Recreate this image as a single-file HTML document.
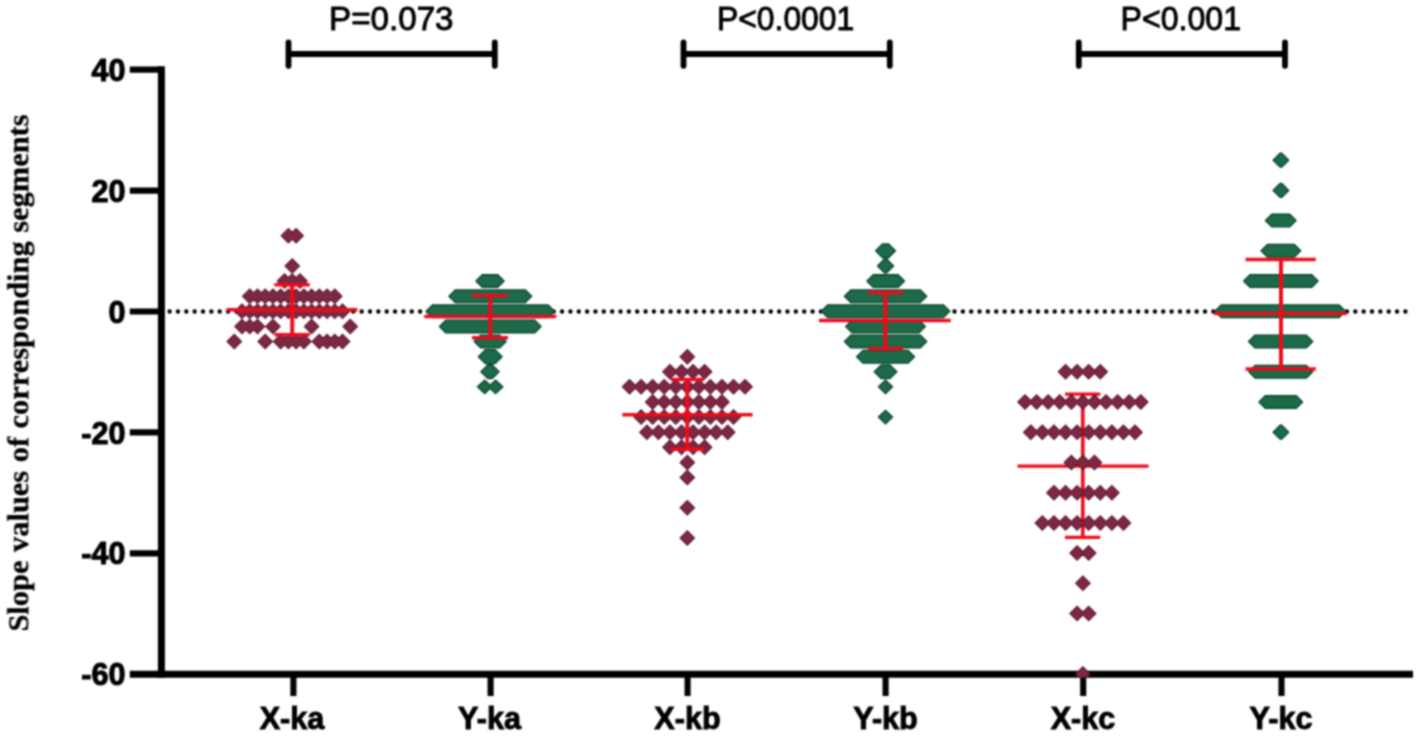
<!DOCTYPE html>
<html><head><meta charset="utf-8"><title>Slope values</title>
<style>html,body{margin:0;padding:0;background:#fff}svg{display:block}</style>
</head><body>
<svg width="1418" height="737" viewBox="0 0 1418 737">
<rect width="1418" height="737" fill="#fff"/>
<filter id="bl" x="0" y="0" width="1418" height="737" filterUnits="userSpaceOnUse" color-interpolation-filters="sRGB"><feConvolveMatrix order="3" kernelMatrix="1 2 1 2 4 2 1 2 1" divisor="16" edgeMode="none" preserveAlpha="false"/><feConvolveMatrix order="3" kernelMatrix="1 6 1 6 36 6 1 6 1" divisor="64" edgeMode="none" preserveAlpha="false"/></filter>
<g filter="url(#bl)">
<line x1="169.6" y1="311.5" x2="1405.8" y2="311.5" stroke="#000" stroke-width="4.4" stroke-linecap="round" stroke-dasharray="0.01 8.34"/>
<path d="M280.38 235.74L288.38 227.74L296.38 235.74L288.38 243.74ZM288.12 235.74L296.12 227.74L304.12 235.74L296.12 243.74ZM284.25 265.96L292.25 257.96L300.25 265.96L292.25 273.96ZM276.52 281.07L284.52 273.07L292.52 281.07L284.52 289.07ZM284.25 281.07L292.25 273.07L300.25 281.07L292.25 289.07ZM291.98 281.07L299.98 273.07L307.98 281.07L299.98 289.07ZM241.74 296.19L249.74 288.19L257.74 296.19L249.74 304.19ZM249.46 296.19L257.46 288.19L265.46 296.19L257.46 304.19ZM257.19 296.19L265.19 288.19L273.19 296.19L265.19 304.19ZM264.93 296.19L272.93 288.19L280.93 296.19L272.93 304.19ZM272.65 296.19L280.65 288.19L288.65 296.19L280.65 304.19ZM280.38 296.19L288.38 288.19L296.38 296.19L288.38 304.19ZM288.12 296.19L296.12 288.19L304.12 296.19L296.12 304.19ZM295.85 296.19L303.85 288.19L311.85 296.19L303.85 304.19ZM303.57 296.19L311.57 288.19L319.57 296.19L311.57 304.19ZM311.31 296.19L319.31 288.19L327.31 296.19L319.31 304.19ZM319.04 296.19L327.04 288.19L335.04 296.19L327.04 304.19ZM326.76 296.19L334.76 288.19L342.76 296.19L334.76 304.19ZM234.00 311.30L242.00 303.30L250.00 311.30L242.00 319.30ZM241.74 311.30L249.74 303.30L257.74 311.30L249.74 319.30ZM249.46 311.30L257.46 303.30L265.46 311.30L257.46 319.30ZM257.19 311.30L265.19 303.30L273.19 311.30L265.19 319.30ZM264.93 311.30L272.93 303.30L280.93 311.30L272.93 319.30ZM272.65 311.30L280.65 303.30L288.65 311.30L280.65 319.30ZM280.38 311.30L288.38 303.30L296.38 311.30L288.38 319.30ZM288.12 311.30L296.12 303.30L304.12 311.30L296.12 319.30ZM295.85 311.30L303.85 303.30L311.85 311.30L303.85 319.30ZM303.57 311.30L311.57 303.30L319.57 311.30L311.57 319.30ZM311.31 311.30L319.31 303.30L327.31 311.30L319.31 319.30ZM319.04 311.30L327.04 303.30L335.04 311.30L327.04 319.30ZM326.76 311.30L334.76 303.30L342.76 311.30L334.76 319.30ZM334.50 311.30L342.50 303.30L350.50 311.30L342.50 319.30ZM234.00 326.41L242.00 318.41L250.00 326.41L242.00 334.41ZM241.74 326.41L249.74 318.41L257.74 326.41L249.74 334.41ZM249.46 326.41L257.46 318.41L265.46 326.41L257.46 334.41ZM264.93 326.41L272.93 318.41L280.93 326.41L272.93 334.41ZM303.57 326.41L311.57 318.41L319.57 326.41L311.57 334.41ZM342.23 326.41L350.23 318.41L358.23 326.41L350.23 334.41ZM226.28 341.53L234.28 333.53L242.28 341.53L234.28 349.53ZM257.19 341.53L265.19 333.53L273.19 341.53L265.19 349.53ZM272.65 341.53L280.65 333.53L288.65 341.53L280.65 349.53ZM280.38 341.53L288.38 333.53L296.38 341.53L288.38 349.53ZM288.12 341.53L296.12 333.53L304.12 341.53L296.12 349.53ZM295.85 341.53L303.85 333.53L311.85 341.53L303.85 349.53ZM311.31 341.53L319.31 333.53L327.31 341.53L319.31 349.53ZM319.04 341.53L327.04 333.53L335.04 341.53L327.04 349.53ZM326.76 341.53L334.76 333.53L342.76 341.53L334.76 349.53ZM334.50 341.53L342.50 333.53L350.50 341.53L342.50 349.53Z" fill="#5a1029"/><path d="M281.80 235.74L288.38 229.15L294.97 235.74L288.38 242.32ZM289.53 235.74L296.12 229.15L302.70 235.74L296.12 242.32ZM285.66 265.96L292.25 259.38L298.84 265.96L292.25 272.55ZM277.93 281.07L284.52 274.49L291.11 281.07L284.52 287.66ZM285.66 281.07L292.25 274.49L298.84 281.07L292.25 287.66ZM293.39 281.07L299.98 274.49L306.57 281.07L299.98 287.66ZM243.15 296.19L249.74 289.60L256.32 296.19L249.74 302.77ZM250.88 296.19L257.46 289.60L264.05 296.19L257.46 302.77ZM258.61 296.19L265.19 289.60L271.78 296.19L265.19 302.77ZM266.34 296.19L272.93 289.60L279.51 296.19L272.93 302.77ZM274.07 296.19L280.65 289.60L287.24 296.19L280.65 302.77ZM281.80 296.19L288.38 289.60L294.97 296.19L288.38 302.77ZM289.53 296.19L296.12 289.60L302.70 296.19L296.12 302.77ZM297.26 296.19L303.85 289.60L310.43 296.19L303.85 302.77ZM304.99 296.19L311.57 289.60L318.16 296.19L311.57 302.77ZM312.72 296.19L319.31 289.60L325.89 296.19L319.31 302.77ZM320.45 296.19L327.04 289.60L333.62 296.19L327.04 302.77ZM328.18 296.19L334.76 289.60L341.35 296.19L334.76 302.77ZM235.42 311.30L242.00 304.71L248.59 311.30L242.00 317.89ZM243.15 311.30L249.74 304.71L256.32 311.30L249.74 317.89ZM250.88 311.30L257.46 304.71L264.05 311.30L257.46 317.89ZM258.61 311.30L265.19 304.71L271.78 311.30L265.19 317.89ZM266.34 311.30L272.93 304.71L279.51 311.30L272.93 317.89ZM274.07 311.30L280.65 304.71L287.24 311.30L280.65 317.89ZM281.80 311.30L288.38 304.71L294.97 311.30L288.38 317.89ZM289.53 311.30L296.12 304.71L302.70 311.30L296.12 317.89ZM297.26 311.30L303.85 304.71L310.43 311.30L303.85 317.89ZM304.99 311.30L311.57 304.71L318.16 311.30L311.57 317.89ZM312.72 311.30L319.31 304.71L325.89 311.30L319.31 317.89ZM320.45 311.30L327.04 304.71L333.62 311.30L327.04 317.89ZM328.18 311.30L334.76 304.71L341.35 311.30L334.76 317.89ZM335.91 311.30L342.50 304.71L349.08 311.30L342.50 317.89ZM235.42 326.41L242.00 319.83L248.59 326.41L242.00 333.00ZM243.15 326.41L249.74 319.83L256.32 326.41L249.74 333.00ZM250.88 326.41L257.46 319.83L264.05 326.41L257.46 333.00ZM266.34 326.41L272.93 319.83L279.51 326.41L272.93 333.00ZM304.99 326.41L311.57 319.83L318.16 326.41L311.57 333.00ZM343.64 326.41L350.23 319.83L356.81 326.41L350.23 333.00ZM227.69 341.53L234.28 334.94L240.86 341.53L234.28 348.11ZM258.61 341.53L265.19 334.94L271.78 341.53L265.19 348.11ZM274.07 341.53L280.65 334.94L287.24 341.53L280.65 348.11ZM281.80 341.53L288.38 334.94L294.97 341.53L288.38 348.11ZM289.53 341.53L296.12 334.94L302.70 341.53L296.12 348.11ZM297.26 341.53L303.85 334.94L310.43 341.53L303.85 348.11ZM312.72 341.53L319.31 334.94L325.89 341.53L319.31 348.11ZM320.45 341.53L327.04 334.94L333.62 341.53L327.04 348.11ZM328.18 341.53L334.76 334.94L341.35 341.53L334.76 348.11ZM335.91 341.53L342.50 334.94L349.08 341.53L342.50 348.11Z" fill="#7d2842"/>
<g stroke="#ee0a1c" fill="none"><path stroke-width="3.5" d="M226.7 309.7H357.4M274.4 284.7H309.8M274.4 334.7H309.8"/><path stroke-width="4.0" d="M292.2 284.7V334.7"/></g>
<path d="M475.00 281.07L482.00 274.07L498.00 274.07L505.00 281.07L498.00 288.07L482.00 288.07ZM448.00 296.19L455.00 289.19L525.60 289.19L532.60 296.19L525.60 303.19L455.00 303.19ZM425.20 311.30L432.20 304.30L548.40 304.30L555.40 311.30L548.40 318.30L432.20 318.30ZM438.50 326.41L445.50 319.41L535.00 319.41L542.00 326.41L535.00 333.41L445.50 333.41ZM473.30 341.53L480.30 334.53L500.00 334.53L507.00 341.53L500.00 348.53L480.30 348.53ZM477.50 356.64L485.10 349.04L495.40 349.04L503.00 356.64L495.40 364.24L485.10 364.24ZM480.00 371.75L487.60 364.15L492.40 364.15L500.00 371.75L492.40 379.35L487.60 379.35ZM476.50 386.86L484.70 379.26L492.90 386.86L484.70 394.46ZM487.40 386.86L495.60 379.26L503.80 386.86L495.60 394.46Z" fill="#07422a"/><path d="M476.77 281.07L482.52 275.32L497.48 275.32L503.23 281.07L497.48 286.82L482.52 286.82ZM449.77 296.19L455.52 290.44L525.08 290.44L530.83 296.19L525.08 301.94L455.52 301.94ZM426.97 311.30L432.72 305.55L547.88 305.55L553.63 311.30L547.88 317.05L432.72 317.05ZM440.27 326.41L446.02 320.66L534.48 320.66L540.23 326.41L534.48 332.16L446.02 332.16ZM475.07 341.53L480.82 335.78L499.48 335.78L505.23 341.53L499.48 347.28L480.82 347.28ZM479.27 356.64L485.62 350.29L494.88 350.29L501.23 356.64L494.88 362.99L485.62 362.99ZM481.77 371.75L488.12 365.40L491.88 365.40L498.23 371.75L491.88 378.10L488.12 378.10ZM478.27 386.86L484.70 381.03L491.13 386.86L484.70 392.69ZM489.17 386.86L495.60 381.03L502.03 386.86L495.60 392.69Z" fill="#1c6a48"/>
<g stroke="#ee0a1c" fill="none"><path stroke-width="3.5" d="M424.3 316.4H556.3M472 295.5H508M472 337.8H508"/><path stroke-width="4.0" d="M490.3 295.5V337.8"/></g>
<path d="M679.30 356.64L687.30 348.64L695.30 356.64L687.30 364.64ZM661.97 371.75L669.97 363.75L677.97 371.75L669.97 379.75ZM673.52 371.75L681.52 363.75L689.52 371.75L681.52 379.75ZM685.07 371.75L693.07 363.75L701.07 371.75L693.07 379.75ZM696.62 371.75L704.62 363.75L712.62 371.75L704.62 379.75ZM621.55 386.86L629.55 378.86L637.55 386.86L629.55 394.86ZM633.10 386.86L641.10 378.86L649.10 386.86L641.10 394.86ZM644.65 386.86L652.65 378.86L660.65 386.86L652.65 394.86ZM656.20 386.86L664.20 378.86L672.20 386.86L664.20 394.86ZM667.75 386.86L675.75 378.86L683.75 386.86L675.75 394.86ZM679.30 386.86L687.30 378.86L695.30 386.86L687.30 394.86ZM690.85 386.86L698.85 378.86L706.85 386.86L698.85 394.86ZM702.40 386.86L710.40 378.86L718.40 386.86L710.40 394.86ZM713.95 386.86L721.95 378.86L729.95 386.86L721.95 394.86ZM725.50 386.86L733.50 378.86L741.50 386.86L733.50 394.86ZM737.05 386.86L745.05 378.86L753.05 386.86L745.05 394.86ZM644.65 401.98L652.65 393.98L660.65 401.98L652.65 409.98ZM656.20 401.98L664.20 393.98L672.20 401.98L664.20 409.98ZM667.75 401.98L675.75 393.98L683.75 401.98L675.75 409.98ZM679.30 401.98L687.30 393.98L695.30 401.98L687.30 409.98ZM690.85 401.98L698.85 393.98L706.85 401.98L698.85 409.98ZM702.40 401.98L710.40 393.98L718.40 401.98L710.40 409.98ZM713.95 401.98L721.95 393.98L729.95 401.98L721.95 409.98ZM633.10 417.09L641.10 409.09L649.10 417.09L641.10 425.09ZM644.65 417.09L652.65 409.09L660.65 417.09L652.65 425.09ZM656.20 417.09L664.20 409.09L672.20 417.09L664.20 425.09ZM667.75 417.09L675.75 409.09L683.75 417.09L675.75 425.09ZM679.30 417.09L687.30 409.09L695.30 417.09L687.30 425.09ZM690.85 417.09L698.85 409.09L706.85 417.09L698.85 425.09ZM702.40 417.09L710.40 409.09L718.40 417.09L710.40 425.09ZM713.95 417.09L721.95 409.09L729.95 417.09L721.95 425.09ZM725.50 417.09L733.50 409.09L741.50 417.09L733.50 425.09ZM638.88 432.20L646.88 424.20L654.88 432.20L646.88 440.20ZM650.42 432.20L658.42 424.20L666.42 432.20L658.42 440.20ZM661.97 432.20L669.97 424.20L677.97 432.20L669.97 440.20ZM673.52 432.20L681.52 424.20L689.52 432.20L681.52 440.20ZM685.07 432.20L693.07 424.20L701.07 432.20L693.07 440.20ZM696.62 432.20L704.62 424.20L712.62 432.20L704.62 440.20ZM708.17 432.20L716.17 424.20L724.17 432.20L716.17 440.20ZM719.72 432.20L727.72 424.20L735.72 432.20L727.72 440.20ZM661.97 447.31L669.97 439.31L677.97 447.31L669.97 455.31ZM673.52 447.31L681.52 439.31L689.52 447.31L681.52 455.31ZM685.07 447.31L693.07 439.31L701.07 447.31L693.07 455.31ZM696.62 447.31L704.62 439.31L712.62 447.31L704.62 455.31ZM679.30 462.43L687.30 454.43L695.30 462.43L687.30 470.43ZM679.30 477.54L687.30 469.54L695.30 477.54L687.30 485.54ZM679.30 507.76L687.30 499.76L695.30 507.76L687.30 515.76ZM679.30 537.99L687.30 529.99L695.30 537.99L687.30 545.99Z" fill="#5a1029"/><path d="M680.71 356.64L687.30 350.05L693.89 356.64L687.30 363.22ZM663.39 371.75L669.97 365.16L676.56 371.75L669.97 378.34ZM674.94 371.75L681.52 365.16L688.11 371.75L681.52 378.34ZM686.49 371.75L693.07 365.16L699.66 371.75L693.07 378.34ZM698.04 371.75L704.62 365.16L711.21 371.75L704.62 378.34ZM622.96 386.86L629.55 380.28L636.14 386.86L629.55 393.45ZM634.51 386.86L641.10 380.28L647.69 386.86L641.10 393.45ZM646.06 386.86L652.65 380.28L659.24 386.86L652.65 393.45ZM657.61 386.86L664.20 380.28L670.79 386.86L664.20 393.45ZM669.16 386.86L675.75 380.28L682.34 386.86L675.75 393.45ZM680.71 386.86L687.30 380.28L693.89 386.86L687.30 393.45ZM692.26 386.86L698.85 380.28L705.44 386.86L698.85 393.45ZM703.81 386.86L710.40 380.28L716.99 386.86L710.40 393.45ZM715.36 386.86L721.95 380.28L728.54 386.86L721.95 393.45ZM726.91 386.86L733.50 380.28L740.09 386.86L733.50 393.45ZM738.46 386.86L745.05 380.28L751.64 386.86L745.05 393.45ZM646.06 401.98L652.65 395.39L659.24 401.98L652.65 408.56ZM657.61 401.98L664.20 395.39L670.79 401.98L664.20 408.56ZM669.16 401.98L675.75 395.39L682.34 401.98L675.75 408.56ZM680.71 401.98L687.30 395.39L693.89 401.98L687.30 408.56ZM692.26 401.98L698.85 395.39L705.44 401.98L698.85 408.56ZM703.81 401.98L710.40 395.39L716.99 401.98L710.40 408.56ZM715.36 401.98L721.95 395.39L728.54 401.98L721.95 408.56ZM634.51 417.09L641.10 410.50L647.69 417.09L641.10 423.67ZM646.06 417.09L652.65 410.50L659.24 417.09L652.65 423.67ZM657.61 417.09L664.20 410.50L670.79 417.09L664.20 423.67ZM669.16 417.09L675.75 410.50L682.34 417.09L675.75 423.67ZM680.71 417.09L687.30 410.50L693.89 417.09L687.30 423.67ZM692.26 417.09L698.85 410.50L705.44 417.09L698.85 423.67ZM703.81 417.09L710.40 410.50L716.99 417.09L710.40 423.67ZM715.36 417.09L721.95 410.50L728.54 417.09L721.95 423.67ZM726.91 417.09L733.50 410.50L740.09 417.09L733.50 423.67ZM640.29 432.20L646.88 425.61L653.46 432.20L646.88 438.79ZM651.84 432.20L658.42 425.61L665.01 432.20L658.42 438.79ZM663.39 432.20L669.97 425.61L676.56 432.20L669.97 438.79ZM674.94 432.20L681.52 425.61L688.11 432.20L681.52 438.79ZM686.49 432.20L693.07 425.61L699.66 432.20L693.07 438.79ZM698.04 432.20L704.62 425.61L711.21 432.20L704.62 438.79ZM709.59 432.20L716.17 425.61L722.76 432.20L716.17 438.79ZM721.14 432.20L727.72 425.61L734.31 432.20L727.72 438.79ZM663.39 447.31L669.97 440.73L676.56 447.31L669.97 453.90ZM674.94 447.31L681.52 440.73L688.11 447.31L681.52 453.90ZM686.49 447.31L693.07 440.73L699.66 447.31L693.07 453.90ZM698.04 447.31L704.62 440.73L711.21 447.31L704.62 453.90ZM680.71 462.43L687.30 455.84L693.89 462.43L687.30 469.01ZM680.71 477.54L687.30 470.95L693.89 477.54L687.30 484.12ZM680.71 507.76L687.30 501.18L693.89 507.76L687.30 514.35ZM680.71 537.99L687.30 531.40L693.89 537.99L687.30 544.57Z" fill="#7d2842"/>
<g stroke="#ee0a1c" fill="none"><path stroke-width="3.5" d="M622.4 414.7H752.5M670.8 379.5H704M670.8 449.3H704"/><path stroke-width="4.0" d="M687.3 379.5V449.3"/></g>
<path d="M874.70 250.85L882.30 243.25L888.80 243.25L896.40 250.85L888.80 258.45L882.30 258.45ZM876.60 265.96L884.20 258.36L886.90 258.36L894.50 265.96L886.90 273.56L884.20 273.56ZM866.00 281.07L873.00 274.07L898.40 274.07L905.40 281.07L898.40 288.07L873.00 288.07ZM843.50 296.19L850.50 289.19L920.60 289.19L927.60 296.19L920.60 303.19L850.50 303.19ZM820.40 311.30L827.40 304.30L943.70 304.30L950.70 311.30L943.70 318.30L827.40 318.30ZM844.80 326.41L851.80 319.41L919.30 319.41L926.30 326.41L919.30 333.41L851.80 333.41ZM843.50 341.53L850.50 334.53L920.60 334.53L927.60 341.53L920.60 348.53L850.50 348.53ZM855.70 356.64L862.70 349.64L908.40 349.64L915.40 356.64L908.40 363.64L862.70 363.64ZM873.30 371.75L880.90 364.15L890.20 364.15L897.80 371.75L890.20 379.35L880.90 379.35ZM877.50 386.86L885.50 379.26L893.50 386.86L885.50 394.46ZM877.50 417.09L885.50 409.49L893.50 417.09L885.50 424.69Z" fill="#07422a"/><path d="M876.47 250.85L882.82 244.50L888.28 244.50L894.63 250.85L888.28 257.20L882.82 257.20ZM878.37 265.96L884.72 259.61L886.38 259.61L892.73 265.96L886.38 272.31L884.72 272.31ZM867.77 281.07L873.52 275.32L897.88 275.32L903.63 281.07L897.88 286.82L873.52 286.82ZM845.27 296.19L851.02 290.44L920.08 290.44L925.83 296.19L920.08 301.94L851.02 301.94ZM822.17 311.30L827.92 305.55L943.18 305.55L948.93 311.30L943.18 317.05L827.92 317.05ZM846.57 326.41L852.32 320.66L918.78 320.66L924.53 326.41L918.78 332.16L852.32 332.16ZM845.27 341.53L851.02 335.78L920.08 335.78L925.83 341.53L920.08 347.28L851.02 347.28ZM857.47 356.64L863.22 350.89L907.88 350.89L913.63 356.64L907.88 362.39L863.22 362.39ZM875.07 371.75L881.42 365.40L889.68 365.40L896.03 371.75L889.68 378.10L881.42 378.10ZM879.27 386.86L885.50 381.03L891.73 386.86L885.50 392.69ZM879.27 417.09L885.50 411.25L891.73 417.09L885.50 422.92Z" fill="#1c6a48"/>
<g stroke="#ee0a1c" fill="none"><path stroke-width="3.5" d="M819 320.4H950.7M867.9 292.5H903.2M867.9 348.7H903.2"/><path stroke-width="4.0" d="M885.4 292.5V348.7"/></g>
<g stroke="#ee0a1c" fill="none"><path stroke-width="3.2" d="M1017.5 466.1H1148.5M1065 394.2H1100.3M1065 537.4H1100.3"/><path stroke-width="3.6" d="M1082.8 394.2V537.4"/></g>
<path d="M1057.53 371.75L1065.53 363.75L1073.53 371.75L1065.53 379.75ZM1069.11 371.75L1077.11 363.75L1085.11 371.75L1077.11 379.75ZM1080.69 371.75L1088.69 363.75L1096.69 371.75L1088.69 379.75ZM1092.27 371.75L1100.27 363.75L1108.27 371.75L1100.27 379.75ZM1017.00 401.98L1025.00 393.98L1033.00 401.98L1025.00 409.98ZM1028.58 401.98L1036.58 393.98L1044.58 401.98L1036.58 409.98ZM1040.16 401.98L1048.16 393.98L1056.16 401.98L1048.16 409.98ZM1051.74 401.98L1059.74 393.98L1067.74 401.98L1059.74 409.98ZM1063.32 401.98L1071.32 393.98L1079.32 401.98L1071.32 409.98ZM1074.90 401.98L1082.90 393.98L1090.90 401.98L1082.90 409.98ZM1086.48 401.98L1094.48 393.98L1102.48 401.98L1094.48 409.98ZM1098.06 401.98L1106.06 393.98L1114.06 401.98L1106.06 409.98ZM1109.64 401.98L1117.64 393.98L1125.64 401.98L1117.64 409.98ZM1121.22 401.98L1129.22 393.98L1137.22 401.98L1129.22 409.98ZM1132.80 401.98L1140.80 393.98L1148.80 401.98L1140.80 409.98ZM1022.79 432.20L1030.79 424.20L1038.79 432.20L1030.79 440.20ZM1034.37 432.20L1042.37 424.20L1050.37 432.20L1042.37 440.20ZM1045.95 432.20L1053.95 424.20L1061.95 432.20L1053.95 440.20ZM1057.53 432.20L1065.53 424.20L1073.53 432.20L1065.53 440.20ZM1069.11 432.20L1077.11 424.20L1085.11 432.20L1077.11 440.20ZM1080.69 432.20L1088.69 424.20L1096.69 432.20L1088.69 440.20ZM1092.27 432.20L1100.27 424.20L1108.27 432.20L1100.27 440.20ZM1103.85 432.20L1111.85 424.20L1119.85 432.20L1111.85 440.20ZM1115.43 432.20L1123.43 424.20L1131.43 432.20L1123.43 440.20ZM1127.01 432.20L1135.01 424.20L1143.01 432.20L1135.01 440.20ZM1063.32 462.43L1071.32 454.43L1079.32 462.43L1071.32 470.43ZM1074.90 462.43L1082.90 454.43L1090.90 462.43L1082.90 470.43ZM1086.48 462.43L1094.48 454.43L1102.48 462.43L1094.48 470.43ZM1045.95 492.65L1053.95 484.65L1061.95 492.65L1053.95 500.65ZM1057.53 492.65L1065.53 484.65L1073.53 492.65L1065.53 500.65ZM1069.11 492.65L1077.11 484.65L1085.11 492.65L1077.11 500.65ZM1080.69 492.65L1088.69 484.65L1096.69 492.65L1088.69 500.65ZM1092.27 492.65L1100.27 484.65L1108.27 492.65L1100.27 500.65ZM1103.85 492.65L1111.85 484.65L1119.85 492.65L1111.85 500.65ZM1034.37 522.88L1042.37 514.88L1050.37 522.88L1042.37 530.88ZM1045.95 522.88L1053.95 514.88L1061.95 522.88L1053.95 530.88ZM1057.53 522.88L1065.53 514.88L1073.53 522.88L1065.53 530.88ZM1069.11 522.88L1077.11 514.88L1085.11 522.88L1077.11 530.88ZM1080.69 522.88L1088.69 514.88L1096.69 522.88L1088.69 530.88ZM1092.27 522.88L1100.27 514.88L1108.27 522.88L1100.27 530.88ZM1103.85 522.88L1111.85 514.88L1119.85 522.88L1111.85 530.88ZM1115.43 522.88L1123.43 514.88L1131.43 522.88L1123.43 530.88ZM1069.11 553.10L1077.11 545.10L1085.11 553.10L1077.11 561.10ZM1080.69 553.10L1088.69 545.10L1096.69 553.10L1088.69 561.10ZM1074.90 583.33L1082.90 575.33L1090.90 583.33L1082.90 591.33ZM1069.11 613.55L1077.11 605.55L1085.11 613.55L1077.11 621.55ZM1080.69 613.55L1088.69 605.55L1096.69 613.55L1088.69 621.55Z" fill="#5a1029"/><path d="M1058.94 371.75L1065.53 365.16L1072.12 371.75L1065.53 378.34ZM1070.52 371.75L1077.11 365.16L1083.70 371.75L1077.11 378.34ZM1082.10 371.75L1088.69 365.16L1095.28 371.75L1088.69 378.34ZM1093.68 371.75L1100.27 365.16L1106.86 371.75L1100.27 378.34ZM1018.41 401.98L1025.00 395.39L1031.59 401.98L1025.00 408.56ZM1029.99 401.98L1036.58 395.39L1043.17 401.98L1036.58 408.56ZM1041.57 401.98L1048.16 395.39L1054.75 401.98L1048.16 408.56ZM1053.15 401.98L1059.74 395.39L1066.33 401.98L1059.74 408.56ZM1064.73 401.98L1071.32 395.39L1077.91 401.98L1071.32 408.56ZM1076.31 401.98L1082.90 395.39L1089.49 401.98L1082.90 408.56ZM1087.89 401.98L1094.48 395.39L1101.07 401.98L1094.48 408.56ZM1099.47 401.98L1106.06 395.39L1112.65 401.98L1106.06 408.56ZM1111.05 401.98L1117.64 395.39L1124.23 401.98L1117.64 408.56ZM1122.63 401.98L1129.22 395.39L1135.81 401.98L1129.22 408.56ZM1134.21 401.98L1140.80 395.39L1147.39 401.98L1140.80 408.56ZM1024.20 432.20L1030.79 425.61L1037.38 432.20L1030.79 438.79ZM1035.78 432.20L1042.37 425.61L1048.96 432.20L1042.37 438.79ZM1047.36 432.20L1053.95 425.61L1060.54 432.20L1053.95 438.79ZM1058.94 432.20L1065.53 425.61L1072.12 432.20L1065.53 438.79ZM1070.52 432.20L1077.11 425.61L1083.70 432.20L1077.11 438.79ZM1082.10 432.20L1088.69 425.61L1095.28 432.20L1088.69 438.79ZM1093.68 432.20L1100.27 425.61L1106.86 432.20L1100.27 438.79ZM1105.26 432.20L1111.85 425.61L1118.44 432.20L1111.85 438.79ZM1116.84 432.20L1123.43 425.61L1130.02 432.20L1123.43 438.79ZM1128.42 432.20L1135.01 425.61L1141.60 432.20L1135.01 438.79ZM1064.73 462.43L1071.32 455.84L1077.91 462.43L1071.32 469.01ZM1076.31 462.43L1082.90 455.84L1089.49 462.43L1082.90 469.01ZM1087.89 462.43L1094.48 455.84L1101.07 462.43L1094.48 469.01ZM1047.36 492.65L1053.95 486.06L1060.54 492.65L1053.95 499.24ZM1058.94 492.65L1065.53 486.06L1072.12 492.65L1065.53 499.24ZM1070.52 492.65L1077.11 486.06L1083.70 492.65L1077.11 499.24ZM1082.10 492.65L1088.69 486.06L1095.28 492.65L1088.69 499.24ZM1093.68 492.65L1100.27 486.06L1106.86 492.65L1100.27 499.24ZM1105.26 492.65L1111.85 486.06L1118.44 492.65L1111.85 499.24ZM1035.78 522.88L1042.37 516.29L1048.96 522.88L1042.37 529.46ZM1047.36 522.88L1053.95 516.29L1060.54 522.88L1053.95 529.46ZM1058.94 522.88L1065.53 516.29L1072.12 522.88L1065.53 529.46ZM1070.52 522.88L1077.11 516.29L1083.70 522.88L1077.11 529.46ZM1082.10 522.88L1088.69 516.29L1095.28 522.88L1088.69 529.46ZM1093.68 522.88L1100.27 516.29L1106.86 522.88L1100.27 529.46ZM1105.26 522.88L1111.85 516.29L1118.44 522.88L1111.85 529.46ZM1116.84 522.88L1123.43 516.29L1130.02 522.88L1123.43 529.46ZM1070.52 553.10L1077.11 546.51L1083.70 553.10L1077.11 559.69ZM1082.10 553.10L1088.69 546.51L1095.28 553.10L1088.69 559.69ZM1076.31 583.33L1082.90 576.74L1089.49 583.33L1082.90 589.91ZM1070.52 613.55L1077.11 606.96L1083.70 613.55L1077.11 620.14ZM1082.10 613.55L1088.69 606.96L1095.28 613.55L1088.69 620.14Z" fill="#7d2842"/>
<path d="M1272.20 160.18L1279.80 152.58L1282.00 152.58L1289.60 160.18L1282.00 167.78L1279.80 167.78ZM1272.20 190.40L1279.80 182.80L1282.00 182.80L1289.60 190.40L1282.00 198.00L1279.80 198.00ZM1264.50 220.62L1271.50 213.62L1290.00 213.62L1297.00 220.62L1290.00 227.62L1271.50 227.62ZM1260.10 250.85L1267.10 243.85L1294.60 243.85L1301.60 250.85L1294.60 257.85L1267.10 257.85ZM1242.80 281.07L1249.80 274.07L1312.00 274.07L1319.00 281.07L1312.00 288.07L1249.80 288.07ZM1214.00 311.30L1221.00 304.30L1339.40 304.30L1346.40 311.30L1339.40 318.30L1221.00 318.30ZM1247.60 341.53L1254.60 334.53L1306.60 334.53L1313.60 341.53L1306.60 348.53L1254.60 348.53ZM1247.80 371.75L1254.80 364.75L1306.60 364.75L1313.60 371.75L1306.60 378.75L1254.80 378.75ZM1258.00 401.98L1265.00 394.98L1296.50 394.98L1303.50 401.98L1296.50 408.98L1265.00 408.98ZM1272.20 432.20L1279.80 424.60L1282.00 424.60L1289.60 432.20L1282.00 439.80L1279.80 439.80Z" fill="#07422a"/><path d="M1273.97 160.18L1280.32 153.83L1281.48 153.83L1287.83 160.18L1281.48 166.53L1280.32 166.53ZM1273.97 190.40L1280.32 184.05L1281.48 184.05L1287.83 190.40L1281.48 196.75L1280.32 196.75ZM1266.27 220.62L1272.02 214.88L1289.48 214.88L1295.23 220.62L1289.48 226.38L1272.02 226.38ZM1261.87 250.85L1267.62 245.10L1294.08 245.10L1299.83 250.85L1294.08 256.60L1267.62 256.60ZM1244.57 281.07L1250.32 275.32L1311.48 275.32L1317.23 281.07L1311.48 286.82L1250.32 286.82ZM1215.77 311.30L1221.52 305.55L1338.88 305.55L1344.63 311.30L1338.88 317.05L1221.52 317.05ZM1249.37 341.53L1255.12 335.78L1306.08 335.78L1311.83 341.53L1306.08 347.28L1255.12 347.28ZM1249.57 371.75L1255.32 366.00L1306.08 366.00L1311.83 371.75L1306.08 377.50L1255.32 377.50ZM1259.77 401.98L1265.52 396.23L1295.98 396.23L1301.73 401.98L1295.98 407.73L1265.52 407.73ZM1273.97 432.20L1280.32 425.85L1281.48 425.85L1287.83 432.20L1281.48 438.55L1280.32 438.55Z" fill="#1c6a48"/>
<g stroke="#ee0a1c" fill="none"><path stroke-width="3.5" d="M1214 313.5H1346.6M1245.6 259.4H1315.8M1245.6 369H1315.8"/><path stroke-width="4.0" d="M1281 259.4V369"/></g>
<g stroke="#000" stroke-width="7" fill="none" stroke-linecap="butt">
<path d="M161.4 66.2V677.6999999999999"/>
<path d="M129.8 674.3H1413"/>
<path stroke-width="6.2" d="M129.8 69.70H161.4"/>
<path stroke-width="6.2" d="M129.8 190.60H161.4"/>
<path stroke-width="6.2" d="M129.8 311.50H161.4"/>
<path stroke-width="6.2" d="M129.8 432.40H161.4"/>
<path stroke-width="6.2" d="M129.8 553.30H161.4"/>
<path stroke-width="6.1" d="M293.4 674.3V696"/>
<path stroke-width="6.1" d="M490.6 674.3V696"/>
<path stroke-width="6.1" d="M687.6 674.3V696"/>
<path stroke-width="6.1" d="M885.6 674.3V696"/>
<path stroke-width="6.1" d="M1083.2 674.3V696"/>
<path stroke-width="6.1" d="M1281.5 674.3V696"/>
</g>
<clipPath id="c60"><rect x="1060" y="650" width="50" height="27.6"/></clipPath>
<g clip-path="url(#c60)"><path d="M1074.90 674.00L1082.90 666.00L1090.90 674.00L1082.90 682.00Z" fill="#5a1029"/><path d="M1076.31 674.00L1082.90 667.41L1089.49 674.00L1082.90 680.59Z" fill="#7d2842"/></g>
<g stroke="#000" stroke-width="5.8" fill="none" stroke-linecap="round">
<path d="M288.5 54H494.8M288.5 42.3V65.8M494.8 42.3V65.8"/>
<path d="M683.5 54H889.8M683.5 42.3V65.8M889.8 42.3V65.8"/>
<path d="M1078.8 54H1285M1078.8 42.3V65.8M1285 42.3V65.8"/>
</g>
<g font-family="Liberation Sans, sans-serif" fill="#000">
<text transform="translate(391.3 30) scale(1.005 1)" font-size="33" text-anchor="middle" stroke="#000" stroke-width="0.9">P=0.073</text>
<text transform="translate(785.6 30) scale(0.965 1)" font-size="33" text-anchor="middle" stroke="#000" stroke-width="0.9">P&lt;0.0001</text>
<text transform="translate(1180.8 30) scale(0.973 1)" font-size="33" text-anchor="middle" stroke="#000" stroke-width="0.9">P&lt;0.001</text>
<text x="125.5" y="80.80" font-size="30.6" font-weight="bold" text-anchor="end" stroke="#000" stroke-width="1">40</text>
<text x="125.5" y="201.70" font-size="30.6" font-weight="bold" text-anchor="end" stroke="#000" stroke-width="1">20</text>
<text x="125.5" y="322.60" font-size="30.6" font-weight="bold" text-anchor="end" stroke="#000" stroke-width="1">0</text>
<text x="125.5" y="443.50" font-size="30.6" font-weight="bold" text-anchor="end" stroke="#000" stroke-width="1">-20</text>
<text x="125.5" y="564.40" font-size="30.6" font-weight="bold" text-anchor="end" stroke="#000" stroke-width="1">-40</text>
<text x="125.5" y="685.30" font-size="30.6" font-weight="bold" text-anchor="end" stroke="#000" stroke-width="1">-60</text>
<text x="292" y="729" font-size="30.6" font-weight="bold" text-anchor="middle" stroke="#000" stroke-width="0.9">X-ka</text>
<text x="489.5" y="729" font-size="30.6" font-weight="bold" text-anchor="middle" stroke="#000" stroke-width="0.9">Y-ka</text>
<text x="687.5" y="729" font-size="30.6" font-weight="bold" text-anchor="middle" stroke="#000" stroke-width="0.9">X-kb</text>
<text x="885.5" y="729" font-size="30.6" font-weight="bold" text-anchor="middle" stroke="#000" stroke-width="0.9">Y-kb</text>
<text x="1083" y="729" font-size="30.6" font-weight="bold" text-anchor="middle" stroke="#000" stroke-width="0.9">X-kc</text>
<text x="1281" y="729" font-size="30.6" font-weight="bold" text-anchor="middle" stroke="#000" stroke-width="0.9">Y-kc</text>
</g>
<text transform="translate(27.9 373.0) rotate(-90) scale(1 0.95)" font-family="Liberation Serif, serif" font-weight="bold" font-size="30.45" word-spacing="0.9" text-anchor="middle" fill="#000" stroke="#000" stroke-width="0.3">Slope values of corresponding segments</text>
</g>
</svg>
</body></html>
